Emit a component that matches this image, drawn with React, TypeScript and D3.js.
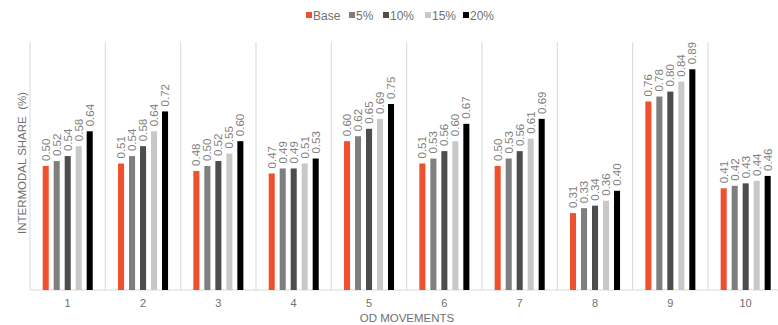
import React from "react";
import * as d3 from "d3";

const categories = ["1", "2", "3", "4", "5", "6", "7", "8", "9", "10"];
const seriesNames = ["Base", "5%", "10%", "15%", "20%"];
const seriesColors = ["#F0502D", "#7F7F7F", "#4D4D4D", "#C8C8C8", "#000000"];
const baseVals = [0.50, 0.51, 0.48, 0.47, 0.60, 0.51, 0.50, 0.31, 0.76, 0.41];
const p5Vals = [0.52, 0.54, 0.50, 0.49, 0.62, 0.53, 0.53, 0.33, 0.78, 0.42];
const p10Vals = [0.54, 0.58, 0.52, 0.49, 0.65, 0.56, 0.56, 0.34, 0.80, 0.43];
const p15Vals = [0.58, 0.64, 0.55, 0.51, 0.69, 0.60, 0.61, 0.36, 0.84, 0.44];
const p20Vals = [0.64, 0.72, 0.60, 0.53, 0.75, 0.67, 0.69, 0.40, 0.89, 0.46];
const seriesValues = [baseVals, p5Vals, p10Vals, p15Vals, p20Vals];

export default function App() {
  const W = 778, H = 325;
  const left = 30, right = 783.3, top = 42, bottom = 290;
  const x = d3.scaleBand<string>().domain(categories).range([left, right]).paddingInner(0).paddingOuter(0);
  const bw = x.bandwidth();
  const inner = d3.scaleBand<string>().domain(seriesNames).range([12.7, bw - 12.6]).paddingInner(0.45).paddingOuter(0);
  const y = d3.scaleLinear().domain([0, 1]).range([bottom, top]);
  const font = "'Liberation Sans', Arial, sans-serif";
  const gridColor = "#D9D9D9";
  const textColor = "#707070";

  const legendX = [306, 349, 383, 425, 463];

  return (
    <svg width={W} height={H} style={{ position: "absolute", left: 0, top: 0, background: "#fff" }} fontFamily={font}>
      {/* vertical grid lines */}
      {categories.map((c) => (
        <line key={"g" + c} x1={x(c)!} x2={x(c)!} y1={top} y2={bottom} stroke={gridColor} strokeWidth={1} />
      ))}
      <line x1={right} x2={right} y1={top} y2={bottom} stroke={gridColor} strokeWidth={1} />
      {/* baseline */}
      <line x1={left} x2={W} y1={bottom} y2={bottom} stroke={gridColor} strokeWidth={1} />
      {/* bars */}
      {categories.map((c, ci) => (
        <g key={"c" + c} transform={`translate(${x(c)},0)`}>
          {seriesNames.map((s, si) => {
            const v = seriesValues[si][ci];
            const bx = inner(s)!;
            const bwid = inner.bandwidth();
            return (
              <g key={s}>
                <rect x={bx} y={y(v)} width={bwid} height={bottom - y(v)} fill={seriesColors[si]} />
                <text
                  transform={`translate(${bx + bwid / 2 + 4},${y(v) - 5}) rotate(-90)`}
                  fontSize={11.5}
                  fill="#808080"
                >
                  {v.toFixed(2)}
                </text>
              </g>
            );
          })}
          <text x={bw / 2} y={307} textAnchor="middle" fontSize={11} fill={textColor}>{c}</text>
        </g>
      ))}
      {/* axis titles */}
      <text x={407} y={322} textAnchor="middle" fontSize={11.5} fill={textColor}>OD MOVEMENTS</text>
      <text transform={`translate(26,163) rotate(-90)`} textAnchor="middle" fontSize={11.5} fill={textColor} style={{ whiteSpace: "pre" }}>INTERMODAL SHARE  (%)</text>
      {/* legend */}
      {seriesNames.map((s, i) => (
        <g key={"l" + s}>
          <rect x={legendX[i]} y={12} width={6} height={6} fill={seriesColors[i]} />
          <text x={legendX[i] + 7} y={19.5} fontSize={12} fill={textColor}>{s}</text>
        </g>
      ))}
    </svg>
  );
}
